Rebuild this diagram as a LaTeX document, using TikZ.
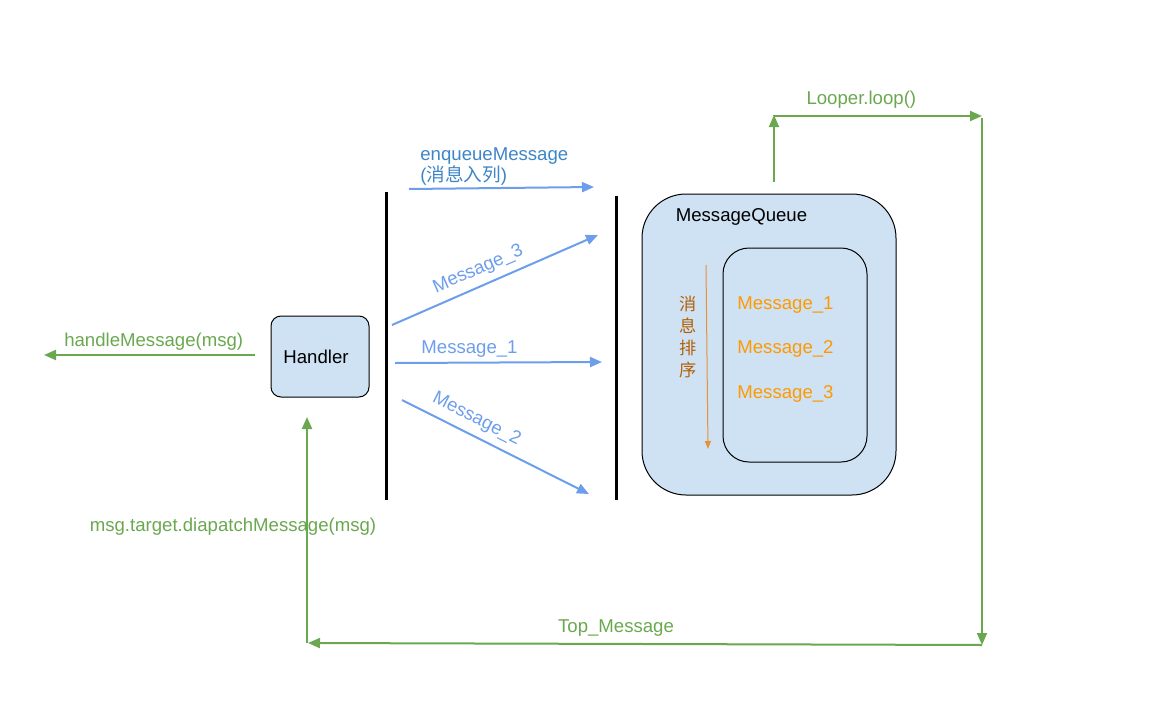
\documentclass[tikz,border=0pt]{standalone}
\usepackage{fontspec}
\setmainfont{Liberation Sans}
\newfontfamily\cjk{Noto Sans CJK SC}
\usetikzlibrary{arrows.meta, positioning}

\definecolor{boxblue}{HTML}{CFE2F3}
\definecolor{lineblue}{HTML}{6D9EEB}
\definecolor{textblue}{HTML}{3D85C6}
\definecolor{loopgreen}{HTML}{6AA84F}
\definecolor{msgorange}{HTML}{FF9900}
\definecolor{sortorange}{HTML}{E69138}
\definecolor{sortbrown}{HTML}{B45F06}

\begin{document}
\begin{tikzpicture}[
      x = 0.5pt, y = -0.5pt,                  % pixel grid, y runs down
      > = {Triangle[length=6pt, width=5pt]},  % arrow head style
      font = \fontsize{9.3}{10.5}\selectfont  % text size
    ]
    \useasboundingbox (0,0) rectangle (1158,723);

    \tikzstyle{B1}=[      % Defines style for the blue boxes
      draw = black,
      line width = 0.5pt,
      fill = boxblue
    ]

    \tikzstyle{W1}=[      % Defines style for the black walls
      line width = 1.5pt
    ]

    \tikzstyle{A1}=[      % Blue message arrows
      ->, lineblue, line width = 1pt
    ]

    \tikzstyle{G1}=[      % Green looper arrows
      ->, loopgreen, line width = 1pt
    ]

    % Definition of the nodes
    \node[B1, rounded corners = 5pt, minimum width = 49pt, minimum height = 40.5pt]
      (handler) at (320,356.5) {\hspace*{-4pt}Handler};
    \node[B1, rounded corners = 22pt, minimum width = 127pt, minimum height = 150.5pt]
      (queue) at (769,344.5) {};
    \node[B1, rounded corners = 13pt, minimum width = 72pt, minimum height = 107pt]
      (inner) at (795,355) {};
    \node (qname) at (741.5,217) {MessageQueue};

    \node[msgorange, anchor = west, inner sep = 0pt] (q1) at (737,305) {Message\_1};
    \node[msgorange, anchor = west, inner sep = 0pt] (q2) at (737,349) {Message\_2};
    \node[msgorange, anchor = west, inner sep = 0pt] (q3) at (737,394) {Message\_3};

    \node[sortbrown, align = center, inner sep = 0pt, font = \cjk\fontsize{8.6}{11}\selectfont]
      (sort) at (688,337) {消\\息\\排\\序};

    % Walls
    \coordinate (wl1) at (386,192);
    \coordinate (wl2) at (386,500);
    \coordinate (wr1) at (616,196);
    \coordinate (wr2) at (616,500);
    \draw[W1] (wl1) -- (wl2);
    \draw[W1] (wr1) -- (wr2);

    % End points of the arrows
    \coordinate (e1) at (409,189);
    \coordinate (e2) at (594,187);
    \coordinate (m3a) at (392,325);
    \coordinate (m3b) at (598,235);
    \coordinate (m1a) at (395,363);
    \coordinate (m1b) at (602,362);
    \coordinate (m2a) at (402,400);
    \coordinate (m2b) at (589,494);
    \coordinate (s1) at (706,265);
    \coordinate (s2) at (708,449);
    \coordinate (h1) at (255,355);
    \coordinate (h2) at (44,355);
    \coordinate (l1) at (774,182);
    \coordinate (l2) at (774,115);
    \coordinate (l3) at (982,116);
    \coordinate (r1) at (982,118);
    \coordinate (r2) at (982,645);
    \coordinate (b1) at (982,645);
    \coordinate (b2) at (308,643);
    \coordinate (u1) at (307,643);
    \coordinate (u2) at (307,417);

    % Definition of the edges
    \path[A1] (e1) edge node {} (e2);
    \node[textblue, align = left, anchor = west, inner sep = 0pt] (enq) at (420,167)
      {enqueueMessage\\({\cjk 消息入列})};

    \path[A1] (m3a) edge node[sloped, above, pos = 0.45] {Message\_3} (m3b);
    \path[A1] (m1a) edge node[above, pos = 0.36, inner sep = 2pt] {Message\_1} (m1b);
    \path[A1] (m2a) edge node[sloped, above, pos = 0.36] {Message\_2} (m2b);

    \path[->, sortorange, line width = 0.5pt, > = {Triangle[length=4pt, width=3pt]}]
      (s1) edge node {} (s2);

    \path[G1] (h1) edge node[above, pos = 0.48, inner sep = 2pt] {handleMessage(msg)} (h2);
    \path[G1] (l1) edge node {} (l2);
    \draw[loopgreen, line width = 1pt] (l2) -- (l2 |- l3);
    \path[G1] (l2 |- l3) edge node[above, pos = 0.42] {Looper.loop()} (l3);
    \path[G1] (r1) edge node {} (r2);
    \path[G1] (b1) edge node[above, pos = 0.543] {Top\_Message} (b2);
    \path[G1] (u1) edge node {} (u2);
    \node[loopgreen] (dispatch) at (233,527) {msg.target.diapatchMessage(msg)};

  \end{tikzpicture}
\end{document}
